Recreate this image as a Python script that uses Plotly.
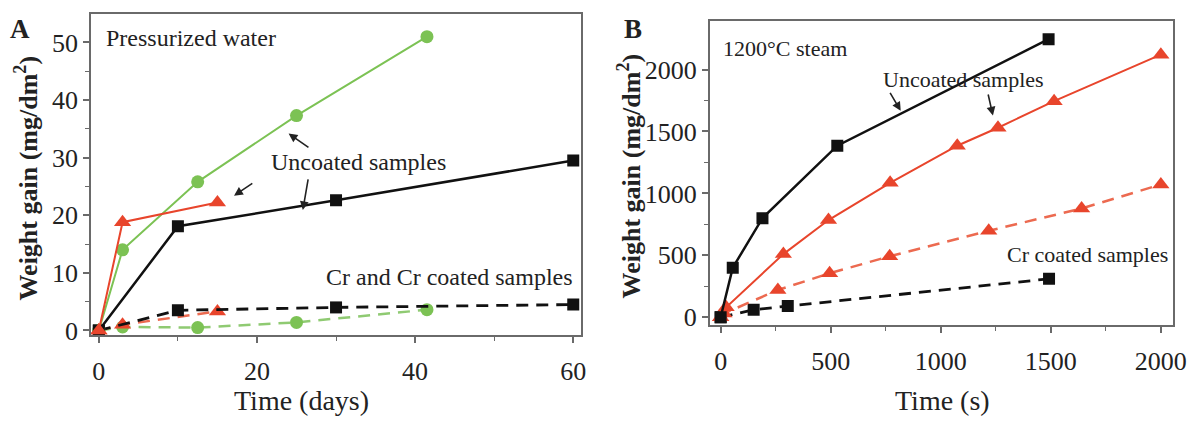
import plotly.graph_objects as go

# ---------------- Panel A data (pressurized water) ----------------
a_unc_sq_x = [0, 10, 30, 60]
a_unc_sq_y = [0, 18.1, 22.6, 29.5]
a_unc_tri_x = [0, 3, 15]
a_unc_tri_y = [0, 18.8, 22.2]
a_unc_cir_x = [0, 3, 12.5, 25, 41.5]
a_unc_cir_y = [0, 14.0, 25.8, 37.3, 51.0]
a_cr_sq_x = [0, 10, 30, 60]
a_cr_sq_y = [0, 3.5, 4.0, 4.5]
a_cr_tri_x = [0, 3, 15]
a_cr_tri_y = [0, 1.0, 3.3]
a_cr_cir_x = [0, 3, 12.5, 25, 41.5]
a_cr_cir_y = [0, 0.6, 0.5, 1.4, 3.6]

# ---------------- Panel B data (1200°C steam) ----------------
b_unc_sq_x = [0, 55, 190, 530, 1490]
b_unc_sq_y = [0, 400, 800, 1385, 2245]
b_unc_tri_x = [0, 25, 285, 490, 770, 1075, 1260, 1515, 2000]
b_unc_tri_y = [0, 80, 510, 785, 1085, 1385, 1530, 1745, 2120]
b_cr_tri_x = [0, 15, 260, 495, 768, 1218, 1640, 2000]
b_cr_tri_y = [0, 30, 220, 355, 492, 698, 878, 1072]
b_cr_sq_x = [0, 150, 305, 1492]
b_cr_sq_y = [0, 60, 90, 310]

BLACK = "#111111"
RED = "#e8452c"
RED_D = "#ec6a50"
GREEN = "#7cc254"
GREEN_D = "#8fca72"
FRAME = "#6a6a6a"
FONT = "Liberation Serif, Times New Roman, serif"
DASH = "12px,8px"

fig = go.Figure()

def add(x, y, color, symbol, size, dash, width, xa, ya, mcolor=None):
    fig.add_trace(go.Scatter(
        x=x, y=y, mode="lines+markers", xaxis=xa, yaxis=ya,
        line=dict(color=color, width=width, dash=dash),
        marker=dict(symbol=symbol, size=size, color=mcolor or color,
                    line=dict(width=0)),
        showlegend=False, hoverinfo="skip"))

# Panel A: dashed first, solid on top
add(a_cr_cir_x, a_cr_cir_y, GREEN_D, "circle", 13, DASH, 2.5, "x", "y", GREEN)
add(a_cr_tri_x, a_cr_tri_y, RED_D, "triangle-up", 15, DASH, 2.5, "x", "y", RED)
add(a_cr_sq_x, a_cr_sq_y, BLACK, "square", 12, DASH, 2.8, "x", "y")
add(a_unc_cir_x, a_unc_cir_y, GREEN, "circle", 13, "solid", 2, "x", "y")
add(a_unc_sq_x, a_unc_sq_y, BLACK, "square", 12, "solid", 2.5, "x", "y")
add(a_unc_tri_x, a_unc_tri_y, RED, "triangle-up", 15, "solid", 2, "x", "y")

# Panel B
add(b_cr_sq_x, b_cr_sq_y, BLACK, "square", 12, DASH, 2.8, "x2", "y2")
add(b_cr_tri_x, b_cr_tri_y, RED_D, "triangle-up", 15, DASH, 2.5, "x2", "y2", RED)
add(b_unc_tri_x, b_unc_tri_y, RED, "triangle-up", 15, "solid", 2, "x2", "y2")
add(b_unc_sq_x, b_unc_sq_y, BLACK, "square", 12, "solid", 2.5, "x2", "y2")

axis_common = dict(
    showline=True, mirror=True, linecolor=FRAME, linewidth=1.5,
    ticks="outside", ticklen=6, tickwidth=1.5, tickcolor=FRAME,
    showgrid=False, zeroline=False,
    tickfont=dict(family=FONT, size=26, color="#222222"),
)
minor_common = dict(ticks="outside", ticklen=4, tickcolor=FRAME, tickwidth=1.2)

fig.update_layout(
    width=1202, height=432,
    margin=dict(l=0, r=0, t=0, b=0),
    paper_bgcolor="white", plot_bgcolor="white",
    xaxis=dict(domain=[92/1202, 588/1202], range=[-1.0, 61.0],
               tickvals=[0, 20, 40, 60], ticklabelstandoff=6,
               minor=dict(tickvals=[10, 30, 50], **minor_common),
               anchor="y", **axis_common),
    yaxis=dict(domain=[1-343/432, 1-14/432], range=[-0.8, 55.0],
               tickvals=[0, 10, 20, 30, 40, 50],
               minor=dict(tickvals=[5, 15, 25, 35, 45], **minor_common),
               anchor="x", **axis_common),
    xaxis2=dict(domain=[718/1202, 1187/1202], range=[-50, 2056],
                tickvals=[0, 500, 1000, 1500, 2000], ticklabelstandoff=6,
                minor=dict(tickvals=[250, 750, 1250, 1750], **minor_common),
                anchor="y2", **axis_common),
    yaxis2=dict(domain=[1-333/432, 1-21/432], range=[-65, 2396],
                tickvals=[0, 500, 1000, 1500, 2000],
                minor=dict(tickvals=[250, 750, 1250, 1750], **minor_common),
                anchor="x2", **axis_common),
)

txt = dict(family=FONT, color="#222222")
ann = []

def label(text, x, y, size, angle=0):
    ann.append(dict(text=text, xref="paper", yref="paper", x=x/1202, y=1-y/432,
                    xanchor="center", yanchor="middle", textangle=angle,
                    showarrow=False, font=dict(size=size, **txt)))

# Panel labels
label("<b>A</b>", 20, 30, 27)
label("<b>B</b>", 640, 30, 27)
# Axis titles
label("<b>Weight gain (mg/dm<sup>2</sup>)</b>", 27, 182, 26, -90)
label("<b>Weight gain (mg/dm<sup>2</sup>)</b>", 637, 180, 26, -90)
label("Time (days)", 305, 410, 28)
label("Time (s)", 954, 410, 28)

def dtext(text, xr, yr, x, y, size, xanchor="center"):
    ann.append(dict(text=text, xref=xr, yref=yr, x=x, y=y, xanchor=xanchor,
                    yanchor="middle", showarrow=False, font=dict(size=size, **txt)))

# Panel A texts
dtext("Pressurized water", "x", "y", 0.6, 50.8, 24, "left")
dtext("Uncoated samples", "x", "y", 32.8, 29.3, 24)
dtext("Cr and Cr coated samples", "x", "y", 44.3, 9.3, 24)
# Panel B texts
dtext("1200°C steam", "x2", "y2", 0, 2170, 22, "left")
dtext("Uncoated samples", "x2", "y2", 1102, 1916, 22)
dtext("Cr coated samples", "x2", "y2", 1667, 510, 22)

arrow = dict(showarrow=True, text="", arrowhead=2, arrowsize=1.1, arrowwidth=1.6,
             arrowcolor="#222222")
# Panel A arrows (head at x,y; tail at ax,ay)
for hx, hy, tx, ty in [(24.0, 34.2, 26.7, 31.6), (17.1, 23.4, 19.6, 25.7),
                       (25.8, 20.9, 26.5, 26.5)]:
    ann.append(dict(x=hx, y=hy, ax=tx, ay=ty, xref="x", yref="y",
                    axref="x", ayref="y", **arrow))
# Panel B arrows
for hx, hy, tx, ty in [(818, 1667, 766, 1824), (1237, 1628, 1214, 1811)]:
    ann.append(dict(x=hx, y=hy, ax=tx, ay=ty, xref="x2", yref="y2",
                    axref="x2", ayref="y2", **arrow))

fig.update_layout(annotations=ann)
fig.write_html("out.html")
